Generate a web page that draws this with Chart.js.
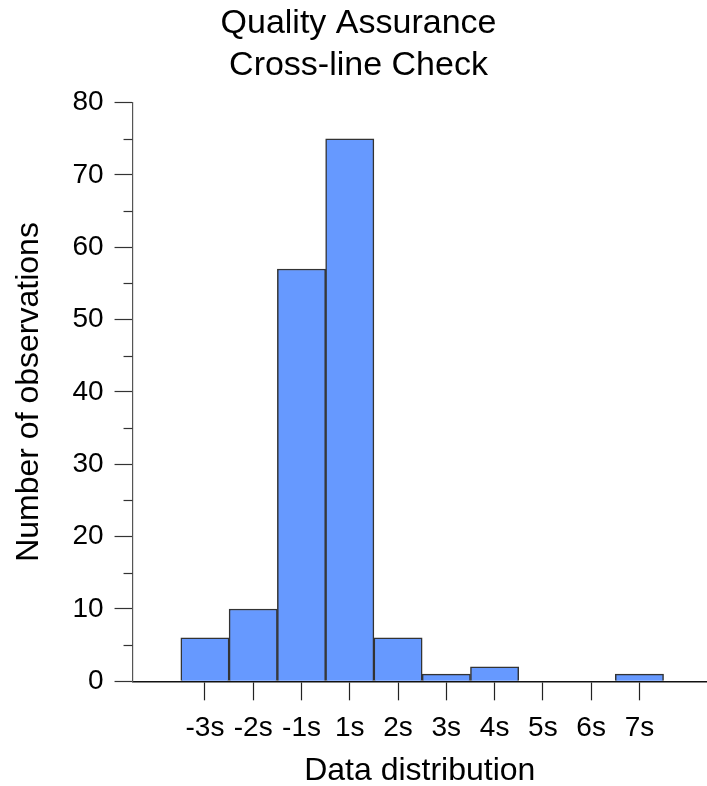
<!DOCTYPE html>
<html>
<head>
    <title>Quality Assurance Cross-line Check</title>
    <script src="https://cdn.jsdelivr.net/npm/chart.js"></script>
    <style>
        body { margin: 0; background: #fff; }
    </style>
</head>
<body>
    <canvas id="qaChart" width="707" height="786"></canvas>
    <script>
        // histogram bins and counts
        const binLabels = ['-3s', '-2s', '-1s', '1s', '2s', '3s', '4s', '5s', '6s', '7s'];
        const binCounts = [6, 10, 57, 75, 6, 1, 2, 0, 0, 1];
        const yTicks = [0, 10, 20, 30, 40, 50, 60, 70, 80];
        const yMinorTicks = [5, 15, 25, 35, 45, 55, 65, 75];

        const font = 'Liberation Sans, Arial, sans-serif';

        // short minor tick marks on the y axis
        const minorTicks = {
            id: 'minorTicks',
            afterDraw(chart) {
                const ctx = chart.ctx;
                const y = chart.scales.y;
                ctx.save();
                ctx.strokeStyle = '#333';
                ctx.lineWidth = 1.2;
                yMinorTicks.forEach(v => {
                    const py = Math.round(y.getPixelForValue(v)) + 0.5;
                    ctx.beginPath();
                    ctx.moveTo(y.right - 9, py);
                    ctx.lineTo(y.right, py);
                    ctx.stroke();
                });
                ctx.restore();
            }
        };

        const ctx = document.getElementById('qaChart').getContext('2d');
        const qaChart = new Chart(ctx, {
            type: 'bar',
            data: {
                datasets: [{
                    label: 'Observations',
                    data: binCounts.map((c, i) => ({ x: i, y: c })),
                    backgroundColor: '#6699ff',
                    borderColor: '#333',
                    borderWidth: 1.5,
                    barPercentage: 1,
                    categoryPercentage: 1
                }]
            },
            options: {
                responsive: false,
                animation: false,
                layout: { padding: { left: 10, right: 0, top: 0, bottom: 0 } },
                plugins: {
                    legend: { display: false },
                    tooltip: { enabled: false },
                    title: {
                        display: true,
                        text: ['Quality Assurance', 'Cross-line Check'],
                        color: '#000',
                        font: { family: font, size: 34, weight: 'normal', lineHeight: 1.23 },
                        padding: { top: 3, bottom: 16 }
                    }
                },
                scales: {
                    x: {
                        type: 'linear',
                        offset: false,
                        min: -1.5,
                        max: 10.4,
                        afterBuildTicks: scale => {
                            scale.ticks = binLabels.map((l, i) => ({ value: i }));
                        },
                        ticks: {
                            color: '#000',
                            font: { family: font, size: 28 },
                            padding: 11,
                            maxRotation: 0,
                            autoSkip: false,
                            callback: v => binLabels[v] ?? ''
                        },
                        grid: {
                            offset: false,
                            drawOnChartArea: false,
                            tickLength: 19,
                            tickColor: '#222',
                            tickWidth: 1.2
                        },
                        border: { color: '#111', width: 1.5 },
                        title: {
                            display: true,
                            text: 'Data distribution',
                            color: '#000',
                            font: { family: font, size: 32, lineHeight: 0.94 },
                            padding: { top: 0, bottom: 0 }
                        }
                    },
                    y: {
                        min: 0,
                        max: 80,
                        afterBuildTicks: scale => {
                            scale.ticks = yTicks.map(v => ({ value: v }));
                        },
                        ticks: {
                            color: '#000',
                            font: { family: font, size: 28 },
                            padding: 11
                        },
                        grid: {
                            drawOnChartArea: false,
                            tickLength: 18,
                            tickColor: '#333',
                            tickWidth: 1.2
                        },
                        border: { color: '#555', width: 1.2 },
                        title: {
                            display: true,
                            text: 'Number of observations',
                            color: '#000',
                            font: { family: font, size: 32 },
                            padding: { top: 0, bottom: 13 }
                        }
                    }
                }
            },
            plugins: [minorTicks]
        });
    </script>
</body>
</html>
